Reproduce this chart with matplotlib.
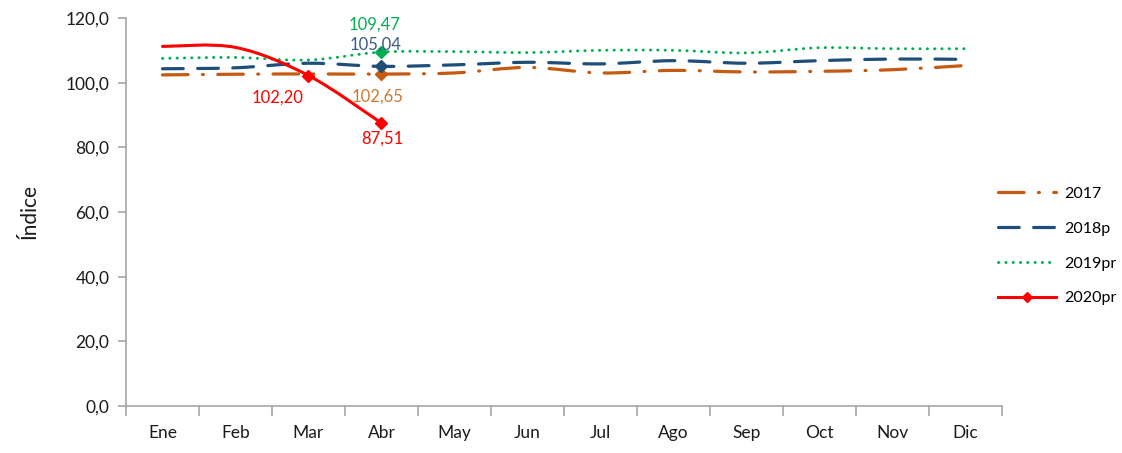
# Indice mensual 2017 - 2020pr, lineas suavizadas al estilo Excel
import numpy as np
import matplotlib.pyplot as plt
from matplotlib.path import Path
from matplotlib.patches import PathPatch
from matplotlib.lines import Line2D

plt.rcParams['font.family'] = ['Lato', 'DejaVu Sans']

# Datos
meses = ['Ene', 'Feb', 'Mar', 'Abr', 'May', 'Jun', 'Jul', 'Ago', 'Sep', 'Oct', 'Nov', 'Dic']
v2017 = [102.4, 102.6, 102.7, 102.65, 103.0, 104.7, 103.0, 103.8, 103.3, 103.5, 104.0, 105.3]
v2018 = [104.3, 104.6, 106.0, 105.04, 105.5, 106.3, 105.8, 106.8, 106.0, 106.8, 107.3, 107.2]
v2019 = [107.5, 107.8, 107.0, 109.47, 109.6, 109.3, 110.0, 110.0, 109.2, 110.8, 110.5, 110.5]
v2020 = [111.2, 110.9, 102.20, 87.51]
series = ['2017', '2018p', '2019pr', '2020pr']

colores = ['#C55A11', '#1F4E79', '#00B050', '#FF0000']
estilos = [(0, (8, 4.5, 0.3, 4.5)), (0, (6.5, 4.5)), (0, (0.1, 2.4)), '-']
grosores = [2.3, 2.3, 2.1, 2.2]


def suavizar(xs, ys):
    # curva tipo Catmull-Rom (como el suavizado de Excel) en coordenadas de datos
    pts = np.column_stack([xs, ys]).astype(float)
    n = len(pts)
    verts = [pts[0]]
    codes = [Path.MOVETO]
    for i in range(n - 1):
        p0 = pts[max(i - 1, 0)]
        p1 = pts[i]
        p2 = pts[i + 1]
        p3 = pts[min(i + 2, n - 1)]
        verts += [p1 + (p2 - p0) / 6, p2 - (p3 - p1) / 6, p2]
        codes += [Path.CURVE4] * 3
    return Path(verts, codes)


fig = plt.figure(figsize=(11.22, 4.53), dpi=100)
ax = fig.add_axes([0.1123, 0.1038, 0.7807, 0.8565])

x = np.arange(len(meses))
datos = [v2017, v2018, v2019, v2020]
handles = []
for vals, col, ls, lw, nombre in zip(datos, colores, estilos, grosores, series):
    xs = x[:len(vals)]
    patch = PathPatch(suavizar(xs, vals), fill=False, edgecolor=col, linestyle=ls,
                      linewidth=lw, capstyle='round', zorder=3)
    ax.add_patch(patch)
    handles.append(Line2D([], [], color=col, linestyle=ls, linewidth=lw,
                          marker='D' if nombre == '2020pr' else None, markersize=5,
                          dash_capstyle='round'))

# marcadores en abril (y marzo para 2020pr)
ax.plot(3, v2017[3], 'D', color=colores[0], markersize=6, zorder=4)
ax.plot(3, v2018[3], 'D', color=colores[1], markersize=6, zorder=4)
ax.plot(3, v2019[3], 'D', color=colores[2], markersize=6, zorder=4)
ax.plot([2, 3], v2020[2:], 'D', color=colores[3], markersize=6, zorder=4)

def fmt(v):
    return f'{v:.2f}'.replace('.', ',')

etiquetas = [
    (3, v2019[3], colores[2], (-5, 20)),
    (3, v2018[3], '#3B5A86', (-4, 16)),
    (3, v2017[3], '#D0782E', (-3, -16)),
    (2, v2020[2], colores[3], (-22, -16)),
    (3, v2020[3], colores[3], (1, -11)),
]
for xi, yi, col, off in etiquetas:
    ax.annotate(fmt(yi), (xi, yi), xytext=off, textcoords='offset points',
                ha='center', va='center', color=col, fontsize=12, zorder=5)

ax.set_xlim(-0.5, 11.5)
ax.set_ylim(0, 120)
ax.set_yticks(np.arange(0, 121, 20))
ax.set_yticklabels([f'{v:.1f}'.replace('.', ',') for v in np.arange(0, 121, 20)])
ax.set_xticks(x)
ax.set_xticklabels(meses)
ax.set_xticks(np.arange(-0.5, 12, 1), minor=True)
ax.tick_params(axis='x', which='major', length=0, pad=14, labelsize=12.5, labelcolor='#1a1a1a')
ax.tick_params(axis='x', which='minor', length=7, color='#a6a6a6', width=1.2)
ax.tick_params(axis='y', length=6, color='#a6a6a6', width=1.2, labelsize=12.5,
               labelcolor='#1a1a1a', pad=6)
for s in ['top', 'right']:
    ax.spines[s].set_visible(False)
for s in ['left', 'bottom']:
    ax.spines[s].set_color('#a6a6a6')
    ax.spines[s].set_linewidth(1.2)

ax.set_ylabel('Índice', fontsize=15, color='#1a1a1a', labelpad=19)

fig.legend(handles, series, loc='center left', bbox_to_anchor=(0.877, 0.457),
           frameon=False, fontsize=11.5, handlelength=3.6, labelspacing=1.3,
           handletextpad=0.5)

fig.savefig('out.png', dpi=100)
